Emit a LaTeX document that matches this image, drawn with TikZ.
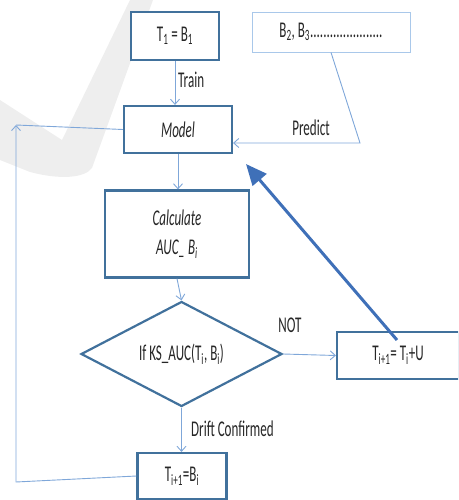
\documentclass[tikz,border=0pt]{standalone}
\usepackage{fontspec}
\setmainfont{Carlito}[FakeStretch=0.58]
\usetikzlibrary{shapes.geometric,arrows.meta}
\definecolor{boxblue}{HTML}{41719C}
\definecolor{lineblue}{HTML}{7FA7D9}
\definecolor{paleblue}{HTML}{A9C8EA}
\definecolor{bigblue}{HTML}{3F70B8}
\definecolor{txt}{HTML}{262626}
\definecolor{wm}{HTML}{EEEEEE}
\begin{document}
\begin{tikzpicture}[x=1pt,y=-1pt,
  font=\fontsize{22.5}{29}\selectfont,
  thickbox/.style={draw=boxblue, line width=2.2pt, fill=white, inner sep=0pt, text=txt},
  thinbox/.style={draw=paleblue, line width=0.9pt, fill=white, inner sep=0pt, text=txt},
  decision/.style={diamond, draw=boxblue, line width=2.2pt, fill=white, inner sep=0pt, text=txt},
  conn/.style={draw=lineblue, line width=0.9pt, -{Straight Barb[length=5pt,width=9pt]}},
  plainline/.style={draw=lineblue, line width=0.9pt},
  bigarrow/.style={draw=bigblue, line width=3pt, -{Triangle[length=21pt,width=18pt]}},
  lbl/.style={text=txt, inner sep=0pt}]
\useasboundingbox (0,0) rectangle (458,500);
\clip (0,0) rectangle (458,500);
% watermark
\fill[wm] (0,100) -- (62,140) -- (130,0) -- (153,0) -- (92,168)
  .. controls (85,178) and (60,180) .. (30,172) -- (0,160) -- cycle;
% nodes
\node[thickbox, minimum width=88pt, minimum height=48pt] (t1) at (175,36) {T\textsubscript{1} = B\textsubscript{1}};
\node[thinbox, minimum width=158pt, minimum height=40pt] (bs) at (331,32) {B\textsubscript{2}, B\textsubscript{3}......................};
\node[thickbox, minimum width=108pt, minimum height=47pt] (model) at (178,129.5) {\itshape Model};
\node[thickbox, minimum width=144pt, minimum height=87pt, align=center] (calc) at (177,234) {\itshape Calculate\\\itshape AUC\_ B\textsubscript{i}};
\node[decision, minimum width=201pt, minimum height=102pt] (dia) at (181.5,354) {If KS\_AUC(T\textsubscript{i}, B\textsubscript{i})};
\node[thickbox, minimum width=122pt, minimum height=47pt] (upd) at (398,355.5) {T\textsubscript{i+1}= T\textsubscript{i}+U};
\node[thickbox, minimum width=89pt, minimum height=46pt] (fin) at (182,476) {T\textsubscript{i+1}=B\textsubscript{i}};
% labels
\node[lbl, anchor=west] (train) at (178,80) {Train};
\node[lbl] (pred) at (311,128) {Predict};
\node[lbl] (notl) at (290,325) {NOT};
\node[lbl, anchor=west] (drift) at (191,429) {Drift Confirmed};
% coordinates
\coordinate (pk) at (360,143);
\coordinate (lt) at (16,125);
\coordinate (lb) at (16,482);
\coordinate (bt) at (397,340);
\coordinate (bh) at (246,164);
% connectors
\draw[conn] (t1.south) -- (t1.south |- model.north);
\draw[conn] (model.south) -- (model.south |- calc.north);
\draw[conn] (calc.south) -- (dia.north);
\draw[conn] (dia.south) -- (dia.south |- fin.north);
\draw[conn] (dia.east) -- (upd.west);
\draw[conn] (bs.south) -- (pk) -- (model.east |- pk);
\draw[conn] (fin.west) -- (lb) -- (lt);
\draw[plainline] (lt) -- (model.west);
\draw[bigarrow] (bt) -- (bh);
\end{tikzpicture}
\end{document}
